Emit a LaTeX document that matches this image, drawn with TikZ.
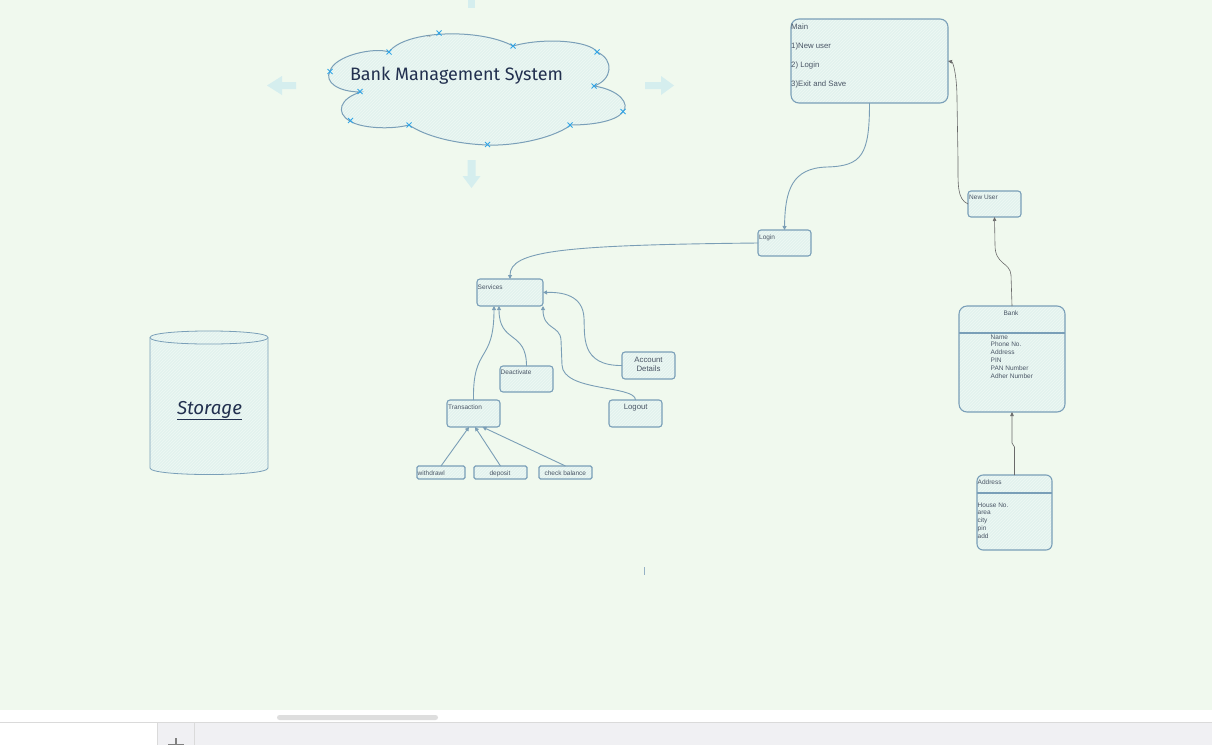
\documentclass[tikz,border=0pt]{standalone}
\usepackage{fontspec}
\usepackage{graphicx}
\setmainfont{Liberation Sans}
\newfontfamily\handfont{Fira Sans}
\usetikzlibrary{arrows.meta,patterns}
\definecolor{bg}{HTML}{F0F9EE}
\definecolor{bfill}{HTML}{E2F2EE}
\definecolor{hatch}{HTML}{EFF9F5}
\definecolor{bline}{HTML}{7A9FB8}
\definecolor{cline}{HTML}{7A9EB6}
\definecolor{txt}{HTML}{4A5666}
\definecolor{navy}{HTML}{22304F}
\definecolor{xmark}{HTML}{33A6E6}
\definecolor{pale}{HTML}{D5EEEE}
\definecolor{dline}{HTML}{6A6A6A}
\definecolor{sbar}{HTML}{DEDEDE}
\definecolor{tabbar}{HTML}{F0F0F3}
\definecolor{sepl}{HTML}{DADADA}
\begin{document}
\begin{tikzpicture}[x=1pt,y=-1pt,
  hatched/.style={fill=bfill,
    postaction={pattern=north east lines, pattern color=hatch},
    postaction={draw=bline, line width=#1}},
  box/.style={hatched=1.1pt, rounded corners=3pt, inner sep=0pt, outer sep=0pt},
  lbl/.style={inner sep=0pt, anchor=base west, text=txt, font=\fontsize{6.5}{7.8}\selectfont},
  lblc/.style={lbl, anchor=base},
  big/.style={lbl, font=\fontsize{7.8}{9}\selectfont},
  bigc/.style={big, anchor=base},
  conn/.style={draw=cline, line width=0.9pt, -{Triangle[length=4pt,width=4pt]}},
  dconn/.style={draw=dline, line width=0.6pt, -{Triangle[length=4pt,width=3.5pt]}},
  xm/.style={draw=xmark, line width=0.9pt},
  blk/.style={fill=pale, draw=none},
]
\useasboundingbox (0,0) rectangle (1212,745);
\fill[bg] (0,0) rectangle (1212,710);

% block arrows around the cloud
\fill[blk] (468,0) rectangle (475,8);
\fill[blk] (267,85.5) -- (282,76) -- (282,82) -- (296,82) -- (296,89) -- (282,89) -- (282,95) -- cycle;
\fill[blk] (674,85.5) -- (661,76) -- (661,82) -- (645,82) -- (645,89) -- (661,89) -- (661,95) -- cycle;
\fill[blk] (471.5,188) -- (462.5,176) -- (467.5,176) -- (467.5,160) -- (475.5,160) -- (475.5,176) -- (480.5,176) -- cycle;

% cloud
\path[hatched=1pt]
  (330,71) .. controls (335,55) and (375,47) .. (389,52)
  .. controls (405,30) and (480,28) .. (513,46)
  .. controls (545,37) and (590,41) .. (597,52)
  .. controls (615,60) and (612,80) .. (594,86)
  .. controls (620,90) and (630,104) .. (623,112)
  .. controls (615,122) and (590,125) .. (571,125)
  .. controls (550,140) and (510,146) .. (488,145)
  .. controls (455,144) and (425,136) .. (409,125)
  .. controls (390,130) and (360,128) .. (350,121)
  .. controls (335,113) and (340,98) .. (361,92)
  .. controls (338,92) and (324,82) .. (330,71) -- cycle;
\node[inner sep=0pt, anchor=base, text=navy] (title) at (456.5,80.5)
  {\resizebox{213pt}{!}{\handfont\fontsize{17}{20}\selectfont Bank Management System}};
\node[inner sep=0pt, text=gray, font=\fontsize{3}{3}\selectfont] (ca) at (429,37) {ca};
\foreach \px/\py in {439/33,389/52,513/46,597/52,330/71.5,594/86,360/91.5,623/111.5,350.5/120.5,409/125,570/125,487.5/144.5}{
  \draw[xm] (\px-2.5,\py-2.5) -- (\px+2.5,\py+2.5) (\px-2.5,\py+2.5) -- (\px+2.5,\py-2.5);
}

% storage cylinder
\path[hatched=0.8pt]
  (150,337.5) -- (150,468) .. controls (150,476.7) and (268,476.7) .. (268,468) -- (268,337.5)
  .. controls (268,328.8) and (150,328.8) .. (150,337.5) -- cycle;
\draw[bline, line width=0.8pt] (150,337.5) .. controls (150,346.2) and (268,346.2) .. (268,337.5);
\node[inner sep=0pt, anchor=base, text=navy] (storage) at (209.5,414)
  {\resizebox{65pt}{!}{\handfont\itshape\fontsize{18}{20}\selectfont\underline{Storage}}};

% boxes
\node[box, rounded corners=8pt, minimum width=157pt, minimum height=84pt] (main) at (869.5,61) {};
\node[big] (m0) at (791,29.8) {Main};
\node[big] (m1) at (791,48.6) {1)New user};
\node[big] (m2) at (791,67.4) {2) Login};
\node[big] (m3) at (791,86.2) {3)Exit and Save};

\node[box, minimum width=53pt, minimum height=26pt] (login) at (784.5,243) {};
\node[lbl] (logint) at (759,239) {Login};

\node[box, minimum width=66pt, minimum height=27pt] (services) at (510,292.5) {};
\node[lbl] (servicest) at (477.5,289) {Services};

\node[box, minimum width=53pt, minimum height=26pt] (deact) at (526.5,379) {};
\node[lbl] (deactt) at (500.5,374) {Deactivate};

\node[box, minimum width=53pt, minimum height=27pt] (acc) at (648.5,365.5) {};
\node[bigc] (acct1) at (648.5,362.5) {Account};
\node[bigc] (acct2) at (648.5,371.8) {Details};

\node[box, minimum width=53pt, minimum height=27pt] (logout) at (635.5,413.5) {};
\node[bigc] (logoutt) at (635.7,409.3) {Logout};

\node[box, minimum width=53pt, minimum height=27pt] (trans) at (473.5,413.5) {};
\node[lbl] (transt) at (448,409) {Transaction};

\node[box, rounded corners=1.5pt, minimum width=48pt, minimum height=13pt] (wd) at (441,472.5) {};
\node[lbl] (wdt) at (417.5,475) {withdrawl};
\node[box, rounded corners=1.5pt, minimum width=53pt, minimum height=13pt] (dep) at (500.5,472.5) {};
\node[lblc] (dept) at (500,475) {deposit};
\node[box, rounded corners=1.5pt, minimum width=53pt, minimum height=13pt] (cb) at (565.5,472.5) {};
\node[lblc] (cbt) at (565.3,475) {check balance};

\node[box, minimum width=53pt, minimum height=26pt] (nu) at (994.5,204) {};
\node[lbl] (nut) at (969,199) {New User};

\node[box, rounded corners=8pt, minimum width=106pt, minimum height=106pt] (bank) at (1012,359) {};
\draw[bline, line width=1.1pt] (959,333) -- (1065,333);
\node[lblc] (bankt) at (1011,315) {Bank};
\foreach \t [count=\i] in {Name,Phone No.,Address,PIN,PAN Number,Adher Number}{
  \node[lbl] (bk\i) at (990.5,339+7.86*\i-7.86) {\t};
}

\node[box, rounded corners=6pt, minimum width=75pt, minimum height=75pt] (addr) at (1014.5,512.5) {};
\draw[bline, line width=1.1pt] (977,493) -- (1052,493);
\node[lbl] (addrt) at (977.5,484) {Address};
\foreach \t [count=\i] in {House No.,area,city,pin,add}{
  \node[lbl] (ad\i) at (977.5,507+7.9*\i-7.9) {\t};
}

% connectors
\draw[conn] (main.south) .. controls +(0,52) and (862,166) .. (827,167) .. controls (792,168) and (785,190) .. (login.north);
\draw[conn] (login.west) .. controls +(-198,2) and +(0,-28) .. (services.north);
\draw[conn] (trans.north) .. controls +(-1,-55) and +(0,58) .. ([xshift=-16pt]services.south);
\draw[conn] (deact.north) .. controls +(0,-36) and +(0,38) .. ([xshift=-11pt]services.south);
\draw[conn] (acc.west) .. controls (580,366) and (585,335) .. (584,318) .. controls (583,295) and (562,292) .. (services.east);
\draw[conn] (logout.north) .. controls +(0,-15) and (563,392) .. (562,365) -- (561,340) .. controls (560,325) and (543,330) .. (services.south east);
\draw[conn] (wd.north) -- ([xshift=-4.5pt]trans.south);
\draw[conn] (dep.north) -- ([xshift=1.5pt]trans.south);
\draw[conn] (cb.north) -- ([xshift=9pt]trans.south);
\draw[dconn] (nu.west) .. controls (957,199) and (958,185) .. (958,160) -- (957,100) .. controls (957,75) and (953,62) .. (main.east);
\draw[dconn] (bank.north) -- (1011,275) .. controls (1010,262) and (995,265) .. (995,245) -- (nu.south);
\draw[dconn] (addr.north) -- (1014.5,447) -- (1012,443) -- (bank.south);

% small cursor mark
\draw[cline!80, line width=1pt] (644.5,567) -- (644.5,575);

% bottom chrome
\fill[white] (0,710) rectangle (1212,722);
\fill[sbar, rounded corners=2.5pt] (277,715) rectangle (438,720);
\fill[tabbar] (0,722) rectangle (1212,745);
\draw[sepl, line width=0.8pt] (0,722) -- (1212,722);
\fill[white] (0,722.5) rectangle (157,745);
\draw[sepl, line width=0.6pt] (157,722.5) -- (157,745);
\draw[sepl, line width=0.6pt] (194.5,722.5) -- (194.5,745);
\draw[gray, line width=1.6pt] (176,738) -- (176,745) (168,744.5) -- (184,744.5);
\end{tikzpicture}
\end{document}
